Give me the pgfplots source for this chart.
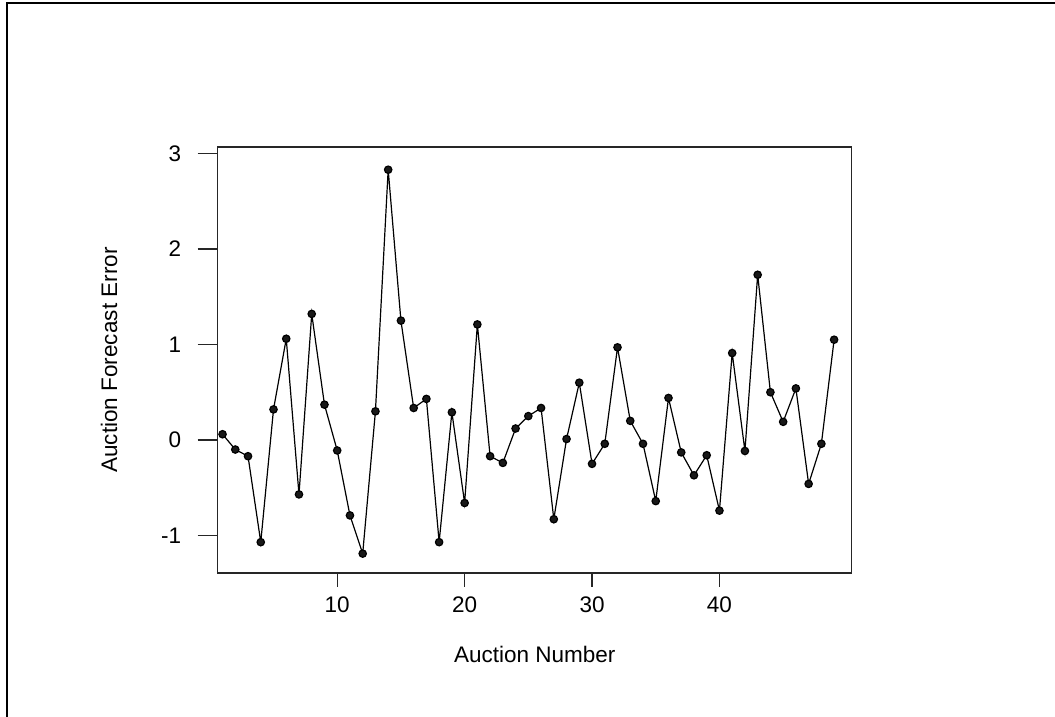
\documentclass[border=0pt]{standalone}
\usepackage{pgfplots}
\pgfplotsset{compat=1.18}
\usepackage{fontspec}
\setmainfont{Liberation Sans}
\begin{document}
\begin{tikzpicture}[x=1pt,y=1pt]
\path[use as bounding box] (0,0) rectangle (1055,717);
\draw[line width=2pt] (7,0) -- (7,714) -- (1055,714);
\begin{axis}[
  at={(217.7pt,144pt)}, anchor=south west,
  width=634pt, height=426pt, scale only axis,
  xmin=0.62, xmax=50.38, ymin=-1.393, ymax=3.068,
  xtick={10,20,30,40}, ytick={-1,0,1,2,3},
  tick align=outside, xtick pos=bottom, ytick pos=left,
  major tick length=20pt,
  xtick style={/pgfplots/major tick length=14pt},
  axis line style={line width=1.3pt, black!85},
  tick style={line width=1.3pt, black!85},
  ticklabel style={font=\fontsize{22.5}{27}\selectfont},
  yticklabel style={xshift=-13pt},
  /pgf/number format/assume math mode=true,
  xlabel={Auction Number}, ylabel={Auction Forecast Error},
  label style={font=\fontsize{22.5}{27}\selectfont},
  xlabel style={at={(rel axis cs:0.5,0)}, anchor=north, yshift=-73pt, inner sep=0pt},
  ylabel style={at={(rel axis cs:0,0.5)}, anchor=center, yshift=108.7pt, inner sep=0pt},
]
\addplot[black, line width=1.2pt, mark=*, mark size=3.7pt, mark options={fill=black!90}] coordinates {
(1,0.06) (2,-0.10) (3,-0.17) (4,-1.07) (5,0.32) (6,1.06) (7,-0.57) (8,1.32) (9,0.37) (10,-0.11)
(11,-0.79) (12,-1.19) (13,0.30) (14,2.83) (15,1.25) (16,0.335) (17,0.43) (18,-1.07) (19,0.29) (20,-0.66)
(21,1.21) (22,-0.17) (23,-0.24) (24,0.12) (25,0.25) (26,0.335) (27,-0.83) (28,0.01) (29,0.60) (30,-0.25)
(31,-0.04) (32,0.97) (33,0.20) (34,-0.04) (35,-0.64) (36,0.44) (37,-0.13) (38,-0.37) (39,-0.16) (40,-0.74)
(41,0.91) (42,-0.115) (43,1.73) (44,0.50) (45,0.19) (46,0.54) (47,-0.46) (48,-0.04) (49,1.05)
};
\end{axis}
\end{tikzpicture}
\end{document}
